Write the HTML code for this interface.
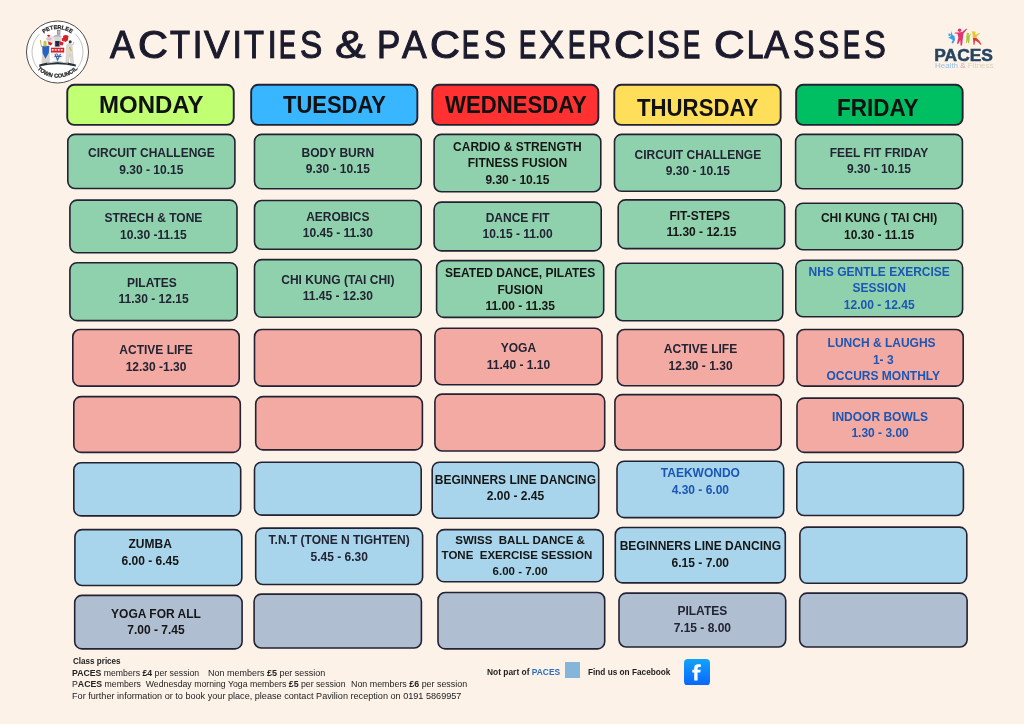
<!DOCTYPE html>
<html><head><meta charset="utf-8"><title>Activities &amp; PACES Exercise Classes</title>
<style>
*{box-sizing:border-box;margin:0;padding:0}
html,body{width:1024px;height:724px;overflow:hidden;background:#fcf2e8}
body{position:relative;font-family:"Liberation Sans",sans-serif}
#pg{position:absolute;left:0;top:0;width:1024px;height:724px;will-change:transform;overflow:hidden}
.b{position:absolute}
.t{position:absolute;left:0;width:100%;text-align:center;font-weight:bold;font-size:12px;white-space:nowrap}
.ht{position:absolute;font-weight:bold;font-size:23px;white-space:nowrap;color:#111;line-height:23px;transform-origin:0 0}
.w{position:absolute;font-size:38.6px;color:#1b1b2d;-webkit-text-stroke:0.6px #1b1b2d;white-space:nowrap;line-height:40px;transform-origin:0 0}
.f{position:absolute;font-size:8.6px;color:#222;white-space:nowrap;line-height:11.4px;transform-origin:0 0}
</style></head><body>
<div id="pg">

<svg style="position:absolute;left:0;top:0" width="1024" height="724" viewBox="0 0 1024 724">
<rect x="67.25" y="84.75" width="166.50" height="40.10" rx="7.0" fill="#c1ff73" stroke="#232233" stroke-width="1.90"/>
<rect x="251.15" y="84.75" width="166.20" height="40.10" rx="7.0" fill="#38b6ff" stroke="#232233" stroke-width="1.90"/>
<rect x="432.25" y="84.75" width="166.10" height="40.10" rx="7.0" fill="#ff3131" stroke="#232233" stroke-width="1.90"/>
<rect x="614.25" y="84.75" width="166.40" height="40.10" rx="7.0" fill="#ffde59" stroke="#232233" stroke-width="1.90"/>
<rect x="796.15" y="84.75" width="166.50" height="40.10" rx="7.0" fill="#00bf63" stroke="#232233" stroke-width="1.90"/>
<rect x="67.80" y="134.40" width="167.10" height="54.10" rx="7.2" fill="#90d1ad" stroke="#232233" stroke-width="1.60"/>
<rect x="69.90" y="200.10" width="167.10" height="52.70" rx="7.2" fill="#90d1ad" stroke="#232233" stroke-width="1.60"/>
<rect x="69.90" y="262.70" width="167.30" height="57.90" rx="7.2" fill="#90d1ad" stroke="#232233" stroke-width="1.60"/>
<rect x="72.80" y="329.50" width="166.40" height="56.60" rx="7.2" fill="#f3aaa3" stroke="#232233" stroke-width="1.60"/>
<rect x="73.80" y="396.60" width="166.50" height="55.80" rx="7.2" fill="#f3aaa3" stroke="#232233" stroke-width="1.60"/>
<rect x="73.80" y="462.80" width="166.90" height="53.10" rx="7.2" fill="#a8d5eb" stroke="#232233" stroke-width="1.60"/>
<rect x="74.90" y="529.60" width="166.90" height="55.90" rx="7.2" fill="#a8d5eb" stroke="#232233" stroke-width="1.60"/>
<rect x="74.70" y="595.40" width="167.40" height="53.50" rx="7.2" fill="#b0bed2" stroke="#232233" stroke-width="1.60"/>
<rect x="254.50" y="134.40" width="166.70" height="54.40" rx="7.2" fill="#90d1ad" stroke="#232233" stroke-width="1.60"/>
<rect x="254.50" y="200.50" width="166.70" height="48.70" rx="7.2" fill="#90d1ad" stroke="#232233" stroke-width="1.60"/>
<rect x="254.50" y="259.60" width="166.70" height="57.70" rx="7.2" fill="#90d1ad" stroke="#232233" stroke-width="1.60"/>
<rect x="254.50" y="329.50" width="166.70" height="56.60" rx="7.2" fill="#f3aaa3" stroke="#232233" stroke-width="1.60"/>
<rect x="255.70" y="396.60" width="166.70" height="53.30" rx="7.2" fill="#f3aaa3" stroke="#232233" stroke-width="1.60"/>
<rect x="254.50" y="462.20" width="166.70" height="52.90" rx="7.2" fill="#a8d5eb" stroke="#232233" stroke-width="1.60"/>
<rect x="255.70" y="528.10" width="166.90" height="56.40" rx="7.2" fill="#a8d5eb" stroke="#232233" stroke-width="1.60"/>
<rect x="254.10" y="594.10" width="167.30" height="53.90" rx="7.2" fill="#b0bed2" stroke="#232233" stroke-width="1.60"/>
<rect x="434.10" y="134.40" width="166.70" height="57.30" rx="7.2" fill="#90d1ad" stroke="#232233" stroke-width="1.60"/>
<rect x="434.10" y="202.10" width="167.10" height="48.80" rx="7.2" fill="#90d1ad" stroke="#232233" stroke-width="1.60"/>
<rect x="436.60" y="260.60" width="167.10" height="56.80" rx="7.2" fill="#90d1ad" stroke="#232233" stroke-width="1.60"/>
<rect x="434.90" y="328.20" width="167.10" height="56.50" rx="7.2" fill="#f3aaa3" stroke="#232233" stroke-width="1.60"/>
<rect x="434.90" y="394.10" width="169.80" height="56.90" rx="7.2" fill="#f3aaa3" stroke="#232233" stroke-width="1.60"/>
<rect x="432.20" y="462.20" width="166.50" height="56.00" rx="7.2" fill="#a8d5eb" stroke="#232233" stroke-width="1.60"/>
<rect x="437.00" y="529.60" width="166.20" height="52.20" rx="7.2" fill="#a8d5eb" stroke="#232233" stroke-width="1.60"/>
<rect x="438.00" y="592.50" width="166.70" height="56.40" rx="7.2" fill="#b0bed2" stroke="#232233" stroke-width="1.60"/>
<rect x="614.50" y="134.40" width="166.70" height="56.90" rx="7.2" fill="#90d1ad" stroke="#232233" stroke-width="1.60"/>
<rect x="618.20" y="199.90" width="166.50" height="48.70" rx="7.2" fill="#90d1ad" stroke="#232233" stroke-width="1.60"/>
<rect x="615.70" y="263.30" width="167.10" height="57.40" rx="7.2" fill="#90d1ad" stroke="#232233" stroke-width="1.60"/>
<rect x="617.40" y="329.50" width="166.30" height="56.20" rx="7.2" fill="#f3aaa3" stroke="#232233" stroke-width="1.60"/>
<rect x="614.90" y="394.60" width="166.30" height="55.40" rx="7.2" fill="#f3aaa3" stroke="#232233" stroke-width="1.60"/>
<rect x="617.00" y="461.20" width="166.70" height="56.40" rx="7.2" fill="#a8d5eb" stroke="#232233" stroke-width="1.60"/>
<rect x="615.30" y="527.50" width="170.00" height="55.40" rx="7.2" fill="#a8d5eb" stroke="#232233" stroke-width="1.60"/>
<rect x="619.00" y="593.10" width="166.70" height="53.90" rx="7.2" fill="#b0bed2" stroke="#232233" stroke-width="1.60"/>
<rect x="795.60" y="134.40" width="166.80" height="54.30" rx="7.2" fill="#90d1ad" stroke="#232233" stroke-width="1.60"/>
<rect x="795.70" y="203.20" width="166.90" height="46.50" rx="7.2" fill="#90d1ad" stroke="#232233" stroke-width="1.60"/>
<rect x="795.80" y="260.20" width="166.80" height="56.50" rx="7.2" fill="#90d1ad" stroke="#232233" stroke-width="1.60"/>
<rect x="797.00" y="329.50" width="166.20" height="56.60" rx="7.2" fill="#f3aaa3" stroke="#232233" stroke-width="1.60"/>
<rect x="797.00" y="398.10" width="166.20" height="54.30" rx="7.2" fill="#f3aaa3" stroke="#232233" stroke-width="1.60"/>
<rect x="796.80" y="462.20" width="166.60" height="53.30" rx="7.2" fill="#a8d5eb" stroke="#232233" stroke-width="1.60"/>
<rect x="799.90" y="527.10" width="166.90" height="56.20" rx="7.2" fill="#a8d5eb" stroke="#232233" stroke-width="1.60"/>
<rect x="799.70" y="593.10" width="167.40" height="53.90" rx="7.2" fill="#b0bed2" stroke="#232233" stroke-width="1.60"/>
</svg>
<div class="b" style="left:67.0px;top:133.6px;width:168.7px;height:55.7px"><div class="t" style="top:11.8px;line-height:16.4px;color:#222333">CIRCUIT CHALLENGE<br>9.30 - 10.15</div></div>
<div class="b" style="left:69.1px;top:199.3px;width:168.7px;height:54.3px"><div class="t" style="top:11.0px;line-height:16.5px;color:#222333">STRECH &amp; TONE<br>10.30 -11.15</div></div>
<div class="b" style="left:69.1px;top:261.9px;width:168.9px;height:59.5px"><div class="t" style="top:13.0px;line-height:16.5px;color:#222333">PILATES&nbsp;<br>11.30 - 12.15</div></div>
<div class="b" style="left:72.0px;top:328.7px;width:168.0px;height:58.2px"><div class="t" style="top:13.5px;line-height:16.5px;color:#222333">ACTIVE LIFE<br>12.30 -1.30</div></div>
<div class="b" style="left:74.1px;top:528.8px;width:168.5px;height:57.5px"><div class="t" style="top:7.5px;line-height:16.4px;color:#151515;left:-8.2px">ZUMBA<br>6.00 - 6.45</div></div>
<div class="b" style="left:73.9px;top:594.6px;width:169.0px;height:55.1px"><div class="t" style="top:11.1px;line-height:16.8px;color:#151515;left:-2.4px">YOGA FOR ALL<br>7.00 - 7.45</div></div>
<div class="b" style="left:253.7px;top:133.6px;width:168.3px;height:56.0px"><div class="t" style="top:11.3px;line-height:16.5px;color:#222333">BODY BURN<br>9.30 - 10.15</div></div>
<div class="b" style="left:253.7px;top:199.7px;width:168.3px;height:50.3px"><div class="t" style="top:8.9px;line-height:16.5px;color:#222333">AEROBICS<br>10.45 - 11.30</div></div>
<div class="b" style="left:253.7px;top:258.8px;width:168.3px;height:59.3px"><div class="t" style="top:13.0px;line-height:16.5px;color:#222333">CHI KUNG (TAI CHI)<br>11.45 - 12.30</div></div>
<div class="b" style="left:254.9px;top:527.3px;width:168.5px;height:58.0px"><div class="t" style="top:4.8px;line-height:16.5px;color:#222333">T.N.T (TONE N TIGHTEN)<br>5.45 - 6.30</div></div>
<div class="b" style="left:433.3px;top:133.6px;width:168.3px;height:58.9px"><div class="t" style="top:5.4px;line-height:16.3px;color:#151515">CARDIO &amp; STRENGTH<br>FITNESS FUSION<br>9.30 - 10.15</div></div>
<div class="b" style="left:433.3px;top:201.3px;width:168.7px;height:50.4px"><div class="t" style="top:8.4px;line-height:16.5px;color:#222333">DANCE FIT<br>10.15 - 11.00</div></div>
<div class="b" style="left:435.8px;top:259.8px;width:168.7px;height:58.4px"><div class="t" style="top:5.4px;line-height:16.5px;color:#151515">SEATED DANCE, PILATES<br>FUSION<br>11.00 - 11.35</div></div>
<div class="b" style="left:434.1px;top:327.4px;width:168.7px;height:58.1px"><div class="t" style="top:13.1px;line-height:16.5px;color:#222333">YOGA<br>11.40 - 1.10</div></div>
<div class="b" style="left:431.4px;top:461.4px;width:168.1px;height:57.6px"><div class="t" style="top:10.5px;line-height:16.4px;color:#151515">BEGINNERS LINE DANCING<br>2.00 - 2.45</div></div>
<div class="b" style="left:436.2px;top:528.8px;width:167.8px;height:53.8px"><div class="t" style="top:4.1px;line-height:15.5px;color:#151515;font-size:11.5px">SWISS&nbsp; BALL DANCE &amp;<br>TONE&nbsp; EXERCISE SESSION&nbsp;&nbsp;<br>6.00 - 7.00</div></div>
<div class="b" style="left:613.7px;top:133.6px;width:168.3px;height:58.5px"><div class="t" style="top:13.1px;line-height:16.5px;color:#222333">CIRCUIT CHALLENGE<br>9.30 - 10.15</div></div>
<div class="b" style="left:617.4px;top:199.1px;width:168.1px;height:50.3px"><div class="t" style="top:8.6px;line-height:16.4px;color:#151515">FIT-STEPS&nbsp;<br>11.30 - 12.15</div></div>
<div class="b" style="left:616.6px;top:328.7px;width:167.9px;height:57.8px"><div class="t" style="top:12.8px;line-height:16.5px;color:#222333">ACTIVE LIFE<br>12.30 - 1.30</div></div>
<div class="b" style="left:616.2px;top:460.4px;width:168.3px;height:58.0px"><div class="t" style="top:4.8px;line-height:16.5px;color:#1b56b4">TAEKWONDO<br>4.30 - 6.00</div></div>
<div class="b" style="left:614.5px;top:526.7px;width:171.6px;height:57.0px"><div class="t" style="top:11.6px;line-height:16.5px;color:#151515">BEGINNERS LINE DANCING<br>6.15 - 7.00</div></div>
<div class="b" style="left:618.2px;top:592.3px;width:168.3px;height:55.5px"><div class="t" style="top:11.2px;line-height:16.5px;color:#222333">PILATES<br>7.15 - 8.00</div></div>
<div class="b" style="left:794.8px;top:133.6px;width:168.4px;height:55.9px"><div class="t" style="top:11.0px;line-height:16.8px;color:#222333">FEEL FIT FRIDAY<br>9.30 - 10.15</div></div>
<div class="b" style="left:794.9px;top:202.4px;width:168.5px;height:48.1px"><div class="t" style="top:7.9px;line-height:16.5px;color:#151515">CHI KUNG ( TAI CHI)<br>10.30 - 11.15</div></div>
<div class="b" style="left:795.0px;top:259.4px;width:168.4px;height:58.1px"><div class="t" style="top:4.6px;line-height:16.5px;color:#1b56b4">NHS GENTLE EXERCISE<br>SESSION<br>12.00 - 12.45</div></div>
<div class="b" style="left:796.2px;top:328.7px;width:167.8px;height:58.2px"><div class="t" style="top:6.7px;line-height:16.3px;color:#1b56b4;left:3.2px">LUNCH &amp; LAUGHS&nbsp;<br>1- 3<br>OCCURS MONTHLY</div></div>
<div class="b" style="left:796.2px;top:397.3px;width:167.8px;height:55.9px"><div class="t" style="top:11.6px;line-height:16.6px;color:#1b56b4">INDOOR BOWLS<br>1.30 - 3.00</div></div>
<div class="ht" style="left:99.11px;top:94.10px;transform:scaleX(1.0429)">MONDAY</div>
<div class="ht" style="left:283.00px;top:94.20px;transform:scaleX(0.9551)">TUESDAY</div>
<div class="ht" style="left:445.30px;top:94.30px;transform:scaleX(0.9626)">WEDNESDAY</div>
<div class="ht" style="left:637.25px;top:96.60px;transform:scaleX(0.9652)">THURSDAY</div>
<div class="ht" style="left:837.35px;top:96.60px;transform:scaleX(0.9765)">FRIDAY</div>
<div class="w" style="left:110.15px;top:25.40px;transform:scaleX(0.9519);-webkit-text-stroke-width:1.00px">A</div>
<div class="w" style="left:138.13px;top:25.40px;transform:scaleX(1.0720);-webkit-text-stroke-width:1.10px">C</div>
<div class="w" style="left:170.30px;top:25.40px;transform:scaleX(0.8522);-webkit-text-stroke-width:1.10px">T</div>
<div class="w" style="left:192.20px;top:25.40px;transform:scaleX(1.0000)">I</div>
<div class="w" style="left:203.90px;top:25.40px;transform:scaleX(0.9962);-webkit-text-stroke-width:1.00px">V</div>
<div class="w" style="left:231.70px;top:25.40px;transform:scaleX(1.0000)">I</div>
<div class="w" style="left:244.20px;top:25.40px;transform:scaleX(0.8478);-webkit-text-stroke-width:1.10px">T</div>
<div class="w" style="left:266.65px;top:25.40px;transform:scaleX(1.0000)">I</div>
<div class="w" style="left:279.10px;top:25.40px;transform:scaleX(0.6522);-webkit-text-stroke-width:1.60px">E</div>
<div class="w" style="left:299.63px;top:25.40px;transform:scaleX(0.8652);-webkit-text-stroke-width:1.10px">S</div>
<div class="w" style="left:334.81px;top:25.40px;transform:scaleX(1.1875);-webkit-text-stroke-width:1.00px">&amp;</div>
<div class="w" style="left:376.59px;top:25.40px;transform:scaleX(0.9048);-webkit-text-stroke-width:1.10px">P</div>
<div class="w" style="left:402.10px;top:25.40px;transform:scaleX(0.9577);-webkit-text-stroke-width:1.00px">A</div>
<div class="w" style="left:429.73px;top:25.40px;transform:scaleX(1.0720);-webkit-text-stroke-width:1.10px">C</div>
<div class="w" style="left:462.36px;top:25.40px;transform:scaleX(0.6696);-webkit-text-stroke-width:1.60px">E</div>
<div class="w" style="left:483.64px;top:25.40px;transform:scaleX(0.8609);-webkit-text-stroke-width:1.10px">S</div>
<div class="w" style="left:519.46px;top:25.40px;transform:scaleX(0.6696);-webkit-text-stroke-width:1.60px">E</div>
<div class="w" style="left:539.12px;top:25.40px;transform:scaleX(0.9792);-webkit-text-stroke-width:1.00px">X</div>
<div class="w" style="left:568.45px;top:25.40px;transform:scaleX(0.6739);-webkit-text-stroke-width:1.60px">E</div>
<div class="w" style="left:588.48px;top:25.40px;transform:scaleX(0.8391);-webkit-text-stroke-width:1.20px">R</div>
<div class="w" style="left:613.70px;top:25.40px;transform:scaleX(1.0960);-webkit-text-stroke-width:1.10px">C</div>
<div class="w" style="left:645.55px;top:25.40px;transform:scaleX(1.0000)">I</div>
<div class="w" style="left:657.41px;top:25.40px;transform:scaleX(0.8913);-webkit-text-stroke-width:1.10px">S</div>
<div class="w" style="left:682.77px;top:25.40px;transform:scaleX(0.6652);-webkit-text-stroke-width:1.60px">E</div>
<div class="w" style="left:713.70px;top:25.40px;transform:scaleX(1.0960);-webkit-text-stroke-width:1.10px">C</div>
<div class="w" style="left:746.57px;top:25.40px;transform:scaleX(0.7632);-webkit-text-stroke-width:1.30px">L</div>
<div class="w" style="left:764.20px;top:25.40px;transform:scaleX(0.9731);-webkit-text-stroke-width:1.00px">A</div>
<div class="w" style="left:792.96px;top:25.40px;transform:scaleX(0.8391);-webkit-text-stroke-width:1.10px">S</div>
<div class="w" style="left:818.17px;top:25.40px;transform:scaleX(0.8304);-webkit-text-stroke-width:1.10px">S</div>
<div class="w" style="left:843.48px;top:25.40px;transform:scaleX(0.6609);-webkit-text-stroke-width:1.60px">E</div>
<div class="w" style="left:864.35px;top:25.40px;transform:scaleX(0.8478);-webkit-text-stroke-width:1.10px">S</div>
<!-- Crest -->
<svg style="position:absolute;left:0;top:0" width="120" height="100" viewBox="0 0 120 100">
  <defs>
    <path id="arcTop" d="M34.5,52 A23,23 0 0 1 80.5,52"/>
    <path id="arcBot" d="M29.8,50 A27.7,27.7 0 0 0 85.2,50"/>
  </defs>
  <circle cx="57.5" cy="52" r="31" fill="#fff" stroke="#3a3a3a" stroke-width="0.9"/>
  <path d="M39.5,34 A25.5,25.5 0 0 0 38,68.5 M75.5,34 A25.5,25.5 0 0 1 77,68.5" fill="none" stroke="#777" stroke-width="0.45"/>
  <text font-family="Liberation Sans" font-weight="bold" font-size="5.6" fill="#1e1e1e" stroke="#1e1e1e" stroke-width="0.25"><textPath href="#arcTop" startOffset="50%" text-anchor="middle">PETERLEE</textPath></text>
  <text font-family="Liberation Sans" font-weight="bold" font-size="5.6" fill="#1e1e1e" stroke="#1e1e1e" stroke-width="0.25" letter-spacing="0.1"><textPath href="#arcBot" startOffset="50%" text-anchor="middle">TOWN COUNCIL</textPath></text>
  <!-- left figure -->
  <path d="M41.5,65 L42.2,47 L44,45 L48.5,45 L49.5,47 L50,65 Z" fill="#d8d4cc"/>
  <path d="M42.2,46 L49.3,46 L48.8,53 L45.4,58.8 L42.6,53 Z" fill="#2563c4"/>
  <path d="M43.4,46.5 L43.6,41.5 L45,40.4 L46.5,41.5 L46.6,46.5 Z" fill="#c8c050"/>
  <path d="M40.3,40 L41.6,47" stroke="#d0b040" stroke-width="1"/>
  <!-- crest flag -->
  <rect x="57" y="30" width="3.3" height="4.6" fill="#8a7080"/>
  <rect x="57.6" y="30.6" width="2.1" height="3.2" fill="#c8b8c0"/>
  <!-- helmet & mantling -->
  <path d="M46.5,36 Q50,34 54,37 L53.5,42.7 L47,42 Z" fill="#e4e2e2"/>
  <path d="M47,35.2 Q49,34 50.5,36 L48.5,37 Z" fill="#d8202a"/>
  <path d="M46,38.5 Q48.5,36.5 52,38.5 L50.5,40.5 L47,40 Z" fill="#c8c4c8"/>
  <path d="M53.5,36 Q57.5,33.5 61.5,36 L61,38 L54,38 Z" fill="#b8b0b8"/>
  <path d="M61.5,38.5 Q65,36.5 68,39 L66,42 L62,41 Z" fill="#e02a30"/>
  <path d="M63,36 Q66,33.8 68.6,36.2 L67.5,41 L63.5,40.5 Z" fill="#d8202a"/>
  <path d="M54.2,36.6 L60.9,36.6 L60.9,47 L54.2,47 Z" fill="#d8d6da"/>
  <path d="M55.2,41 L59.5,41 L59.5,46.5 L55.2,46.5 Z" fill="#1e2a40"/>
  <path d="M48,41.5 L52.6,43 L51,45.5 L48.6,44.8 Z" fill="#d8202a"/>
  <path d="M59.2,41 L63.6,42.5 L62.8,45.5 L60,45 Z" fill="#d8202a"/>
  <!-- shield -->
  <rect x="50.9" y="47.7" width="13.3" height="5" fill="#d8202a"/>
  <path d="M51.8,49 h1.8 v1.8 h-1.8z M54.8,49 h1.8 v1.8 h-1.8z M57.8,49 h1.8 v1.8 h-1.8z M60.8,49 h1.8 v1.8 h-1.8z" fill="#fbe6e6"/>
  <path d="M51.2,52.7 L64,52.7 L63.5,57 Q61,60.5 57.5,61.5 Q54,60.5 51.6,57 Z" fill="#f2f2f4"/>
  <path d="M55,54 L57.5,60 L60.5,54 M54.5,56.5 L61.5,56.5 M56.5,53.5 L59,57" stroke="#3461b0" stroke-width="1.1" fill="none"/>
  <!-- right figure -->
  <path d="M65.8,63.5 L66.6,45 L69,43 L72,44.5 L73.6,63.5 L71,63.5 L69.8,54 L68.4,63.5 Z" fill="#dedbd2" stroke="#a8a49a" stroke-width="0.3"/>
  <circle cx="70.2" cy="41.8" r="1.5" fill="#3a3a30"/>
  <path d="M69.5,47 L71.2,51" stroke="#c8b040" stroke-width="1.1"/>
  <path d="M72.5,45 L74,42" stroke="#888" stroke-width="0.6"/>
  <!-- base -->
  <path d="M39.3,64.5 Q57.5,58.5 75.8,64.5 L75.8,66.5 Q57.5,62 39.3,66.5 Z" fill="#23303c"/>
  <path d="M47,63 Q57.5,60.3 68,63" fill="none" stroke="#e8e8e8" stroke-width="0.9"/>
</svg>

<!-- PACES logo -->
<svg style="position:absolute;left:930px;top:22px" width="70" height="50" viewBox="930 22 70 50">
  <!-- blue figure -->
  <g fill="#3aa0e8">
    <path d="M951.5,31 L952.5,35 L954.5,36 L955,40 L953,43.5 L951.5,43 L952.8,40 L950,38.5 L948,37.5 L950.5,36.5 Z"/>
    <circle cx="949.5" cy="34.8" r="1.2"/>
  </g>
  <!-- pink figure -->
  <g fill="#e0356f">
    <circle cx="959.6" cy="30.3" r="1.8"/>
    <path d="M957.5,32.5 L962,32 L966.5,28.5 L967,29.3 L963.5,33.5 L962.8,39 L962,45.5 L960.6,45.5 L960.2,40 L958.2,44 L957,43.4 L958.4,37.5 L957.5,33.8 L954.5,33.4 L955,32.5 Z"/>
  </g>
  <!-- green/yellow small figure -->
  <g fill="#a8c83a">
    <circle cx="967.8" cy="34" r="1.2"/>
    <path d="M966.2,35.2 L969.4,35.2 L970.5,33.5 L971,34 L969.8,36.5 L969.6,40 L969,43.2 L968,43.2 L967.6,40 L966.8,43.2 L966,43 L966.3,38.5 Z"/>
  </g>
  <!-- yellow/red figure -->
  <g>
    <circle cx="974" cy="32.8" r="1.5" fill="#e8c23a"/>
    <path d="M972.5,34 L976.5,34.2 L979.5,33 L979.8,33.8 L977,36 L976.5,38 L972.8,38 Z" fill="#e8c23a"/>
    <path d="M972.8,38 L976.5,38 L979.5,41 L981.5,44.6 L980.6,44.8 L977.8,42 L975,40.5 L974.5,44.8 L973.5,44.8 L973.2,40.5 Z" fill="#e0383a"/>
    <path d="M972,31 L973,34" stroke="#e8c23a" stroke-width="0.8"/>
  </g>
  <text x="934.3" y="61.2" font-family="Liberation Sans" font-weight="bold" font-size="17.4" fill="#26445f" stroke="#26445f" stroke-width="0.5">PACES</text>
  <text x="935" y="68" font-family="Liberation Sans" font-size="6.9" fill="#9cc0e0" textLength="58.5" lengthAdjust="spacingAndGlyphs">Health <tspan fill="#e0a0b0">&amp;</tspan> <tspan fill="#ddd2b8">Fitness</tspan></text>
</svg>

<!-- Footer -->
<div class="f" style="left:73px;top:655.6px;font-weight:bold;transform:scaleX(0.94)">Class prices</div>
<div class="f" style="left:72.3px;top:667.6px;transform:scaleX(1.013)"><b>PACES</b> members <b>£4</b> per session</div>
<div class="f" style="left:208px;top:667.6px;transform:scaleX(1.045)">Non members <b>£5</b> per session</div>
<div class="f" style="left:72.3px;top:679.1px;transform:scaleX(1.016)">P<b>ACES</b> members&nbsp; Wednesday morning Yoga members <b>£5</b> per session</div>
<div class="f" style="left:351px;top:679.1px;transform:scaleX(1.034)">Non members <b>£6</b> per session</div>
<div class="f" style="left:72.3px;top:690.6px;transform:scaleX(1.06)">For further information or to book your place, please contact Pavilion reception on 0191 5869957</div>

<!-- legend -->
<div class="f" style="left:487.2px;top:666.5px;font-weight:bold;font-size:8.6px;color:#1e1e1e;transform:scaleX(0.977)">Not part of <span style="color:#2b6cc0">PACES</span></div>
<div style="position:absolute;left:564.6px;top:662px;width:15.8px;height:15.8px;background:#85b5d8"></div>
<div class="f" style="left:588px;top:666.5px;font-weight:bold;font-size:8.6px;color:#1e1e1e;transform:scaleX(0.959)">Find us on Facebook</div>
<svg style="position:absolute;left:684.2px;top:658.6px" width="26" height="26.5" viewBox="0 0 26 26.5">
  <defs><linearGradient id="fbg" x1="0" y1="0" x2="0" y2="1"><stop offset="0" stop-color="#12a3f7"/><stop offset="1" stop-color="#0866ff"/></linearGradient></defs>
  <rect x="0" y="0" width="26" height="26.5" rx="4" fill="url(#fbg)"/>
  <path d="M10.2,21.5 L10.2,13.6 L8.3,13.6 L8.3,10.8 L10.2,10.8 L10.2,8.9 Q10.2,5.2 14,5.2 L16.8,5.3 L16.8,8.1 L15,8.1 Q13.6,8.1 13.6,9.5 L13.6,10.8 L16.7,10.8 L16.3,13.6 L13.6,13.6 L13.6,21.5 Z" fill="#fff"/>
</svg>

</div>
</body></html>
